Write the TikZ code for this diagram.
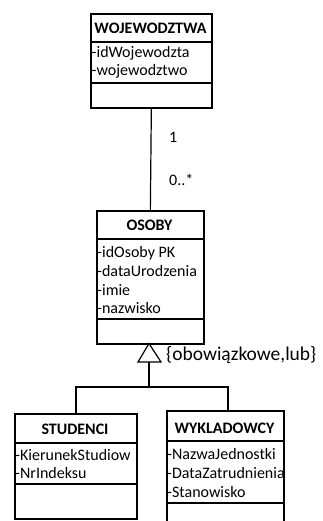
\documentclass[tikz,border=0pt]{standalone}
\usepackage{fontspec}
\setmainfont{Carlito}
\begin{document}
\begin{tikzpicture}[x=1pt,y=-1pt,
  box/.style={draw=black, line width=1.7pt, inner sep=0pt, anchor=north west},
  hdr/.style={font=\fontsize{16}{18}\selectfont\bfseries, inner sep=0pt},
  attr/.style={font=\fontsize{16}{18}\selectfont, inner sep=0pt, anchor=west},
  div/.style={line width=1.7pt},
  conn/.style={line width=1.2pt},
  lbl/.style={font=\fontsize{16}{18}\selectfont, inner sep=0pt, anchor=west}]
\useasboundingbox (0,0) rectangle (323,521);
\clip (0,0) rectangle (323,521);
% WOJEWODZTWA
\node[box, minimum width=121pt, minimum height=94pt] (woj) at (90,13) {};
\draw[div] (90,42) -- (211,42) (90,83) -- (211,83);
\node[hdr] (wojh) at (150.5,28) {WOJEWODZTWA};
\node[attr] (woja1) at (91.5,53) {-idWojewodzta};
\node[attr] (woja2) at (91.5,71) {-wojewodztwo};
% OSOBY
\node[box, minimum width=107pt, minimum height=133pt] (os) at (96,210) {};
\draw[div] (96,239) -- (203,239) (96,319) -- (203,319);
\node[hdr] (osh) at (149.5,225) {OSOBY};
\node[attr] (osa1) at (97,253) {-idOsoby PK};
\node[attr] (osa2) at (97,271) {-dataUrodzenia};
\node[attr] (osa3) at (97,290) {-imie};
\node[attr] (osa4) at (97,308) {-nazwisko};
% association
\draw[conn] (woj.south) -- (os.north);
\node[lbl] (m1) at (169,137) {1};
\node[lbl] (m2) at (169,180) {0..*};
% STUDENCI
\node[box, minimum width=122pt, minimum height=105pt] (st) at (14,413) {};
\draw[div] (14,443) -- (136,443) (14,484) -- (136,484);
\node[hdr] (sth) at (75,429) {STUDENCI};
\node[attr] (sta1) at (15,455) {-KierunekStudiow};
\node[attr] (sta2) at (15,473) {-NrIndeksu};
% WYKLADOWCY
\node[box, minimum width=117pt, minimum height=130pt] (wy) at (166,410) {};
\draw[div] (166,441) -- (283,441) (166,503) -- (283,503);
\node[hdr] (wyh) at (224.5,428) {WYKLADOWCY};
\node[attr] (wya1) at (167,454) {-NazwaJednostki};
\node[attr] (wya2) at (167,473) {-DataZatrudnienia};
\node[attr] (wya3) at (167,492) {-Stanowisko};
% generalization
\coordinate (apex) at (149,343.5);
\coordinate (tb) at (149,362);
\coordinate (fork) at (149,387);
\coordinate (stt) at (76,413);
\coordinate (wyt) at (228,410);
\draw[conn, line join=miter] (apex) -- (138,362) -- (161,362) -- cycle;
\draw[conn] (tb) -- (fork);
\draw[conn] (stt) |- (fork) -| (wyt);
\node[lbl, font=\fontsize{19.5}{22}\selectfont] (gl) at (166,355) {\{obowiązkowe,lub\}};
\end{tikzpicture}
\end{document}
